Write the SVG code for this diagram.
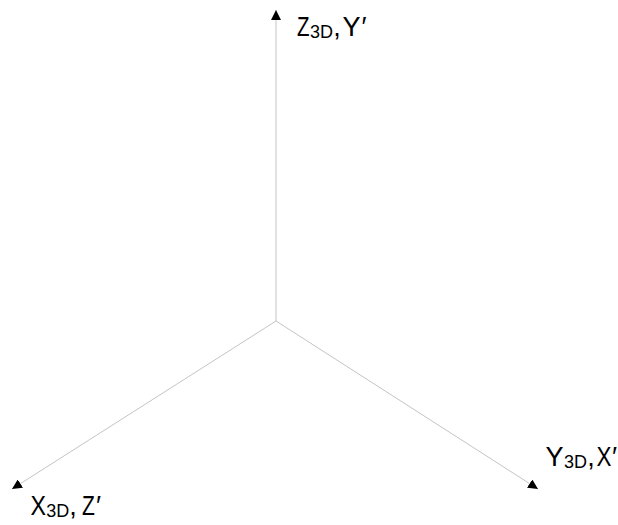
<svg xmlns="http://www.w3.org/2000/svg" width="618" height="525" viewBox="0 0 618 525">
  <style>
    .axis { stroke: #c4c4c4; stroke-width: 1; fill: none; marker-end: url(#arrow); }
    .lbl { font-family: "Liberation Sans", Arial, sans-serif; font-size: 27px; fill: #000; }
    .sub { font-size: 18px; }
  </style>
  <defs>
    <marker id="arrow" markerUnits="userSpaceOnUse" markerWidth="10" markerHeight="10" refX="10" refY="5" orient="auto" viewBox="0 0 10 10">
      <path d="M0,0 L10,5 L0,10 Z" fill="#000"/>
    </marker>
  </defs>
  <rect width="618" height="525" fill="#fff"/>
  <g id="connectors">
    <line class="axis" x1="276" y1="321" x2="276" y2="10"/>
    <line class="axis" x1="276" y1="321" x2="12" y2="489"/>
    <line class="axis" x1="276" y1="321" x2="538" y2="489"/>
  </g>
  <g id="label-z">
    <text class="lbl" transform="translate(297,36) scale(0.76,1)">Z</text>
    <text class="lbl" y="36"><tspan class="sub" x="310" y="38">3D</tspan><tspan x="333.2" y="36">,</tspan><tspan x="342.5">Y</tspan><tspan x="361.5">′</tspan></text>
  </g>
  <g id="label-x">
    <text class="lbl" transform="translate(30.5,515) scale(0.86,1)">X</text>
    <text class="lbl" y="515"><tspan class="sub" x="46.2" y="517">3D</tspan><tspan x="69.3" y="515">,</tspan></text>
    <text class="lbl" transform="translate(82,515) scale(0.78,1)">Z</text>
    <text class="lbl" x="96" y="515">′</text>
  </g>
  <g id="label-y">
    <text class="lbl" y="466"><tspan x="545.5">Y</tspan><tspan class="sub" x="564" y="468">3D</tspan><tspan x="587.2" y="466">,</tspan></text>
    <text class="lbl" transform="translate(596.5,466) scale(0.83,1)">X</text>
    <text class="lbl" x="612" y="466">′</text>
  </g>
</svg>
